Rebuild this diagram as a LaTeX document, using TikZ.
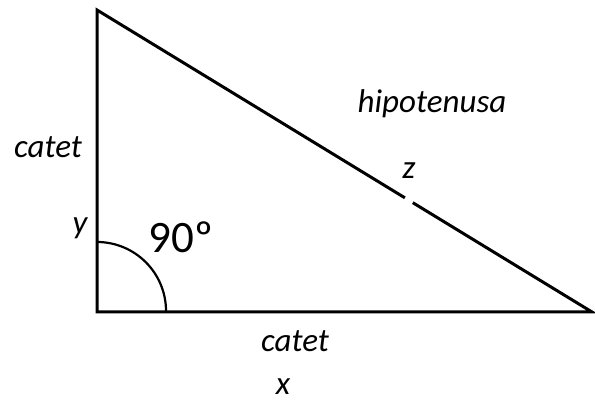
\documentclass[tikz,border=0pt]{standalone}
\usepackage{fontspec}
\setmainfont{Carlito}
\usetikzlibrary{calc}
\begin{document}
\begin{tikzpicture}[x=1pt,y=-1pt,
  edge/.style={line width=3pt},
  lbl/.style={font=\fontsize{33}{36}\selectfont\itshape, inner sep=0pt},
  big/.style={font=\fontsize{45}{50}\selectfont, inner sep=0pt}]
\useasboundingbox (0,0) rectangle (595,403);
\coordinate (A) at (97,10);
\coordinate (B) at (97,312);
\coordinate (C) at (592,312);
\coordinate (G1) at ($(A)!0.622!(C)$);
\coordinate (G2) at ($(A)!0.638!(C)$);
\draw[edge, line join=miter] (G1) -- (A) -- (B) -- (C) -- (G2);
\draw[line width=2.2pt] (97,242) arc[start angle=-90, end angle=0, radius=69];
\node[lbl] (cl) at (48,147) {catet};
\node[lbl] (y) at (80,228) {y};
\node[big] (a90) at (181,237.5) {90º};
\node[lbl] (h) at (432,104) {hipotenusa};
\node[lbl] (z) at (409,170.5) {z};
\node[lbl] (cb) at (295,341) {catet};
\node[lbl] (x) at (283,387) {x};
\end{tikzpicture}
\end{document}
